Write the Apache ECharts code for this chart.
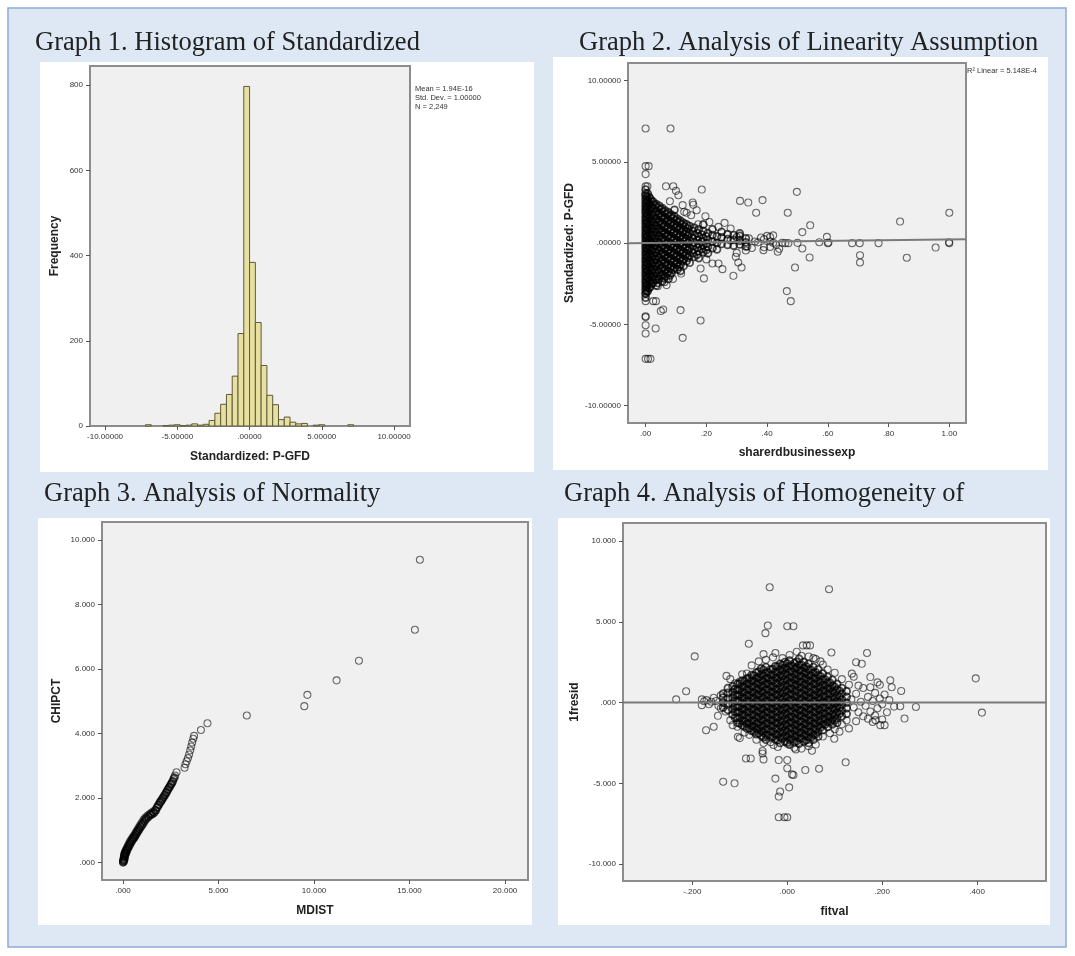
<!DOCTYPE html>
<html>
<head>
<meta charset="utf-8">
<title>Graphs 1-4</title>
<script src="https://cdn.jsdelivr.net/npm/echarts@6/dist/echarts.min.js"></script>
<style>
html, body { margin: 0; padding: 0; background: #fff; }
#chart { width: 1075px; height: 956px; }
</style>
</head>
<body>
<div id="chart"></div>
<script>
// ---- Graph 1: histogram (bins of 0.4) ----
var histBinWidth = 0.4;
var histBinStarts = [-7.2, -6.0, -5.6, -5.2, -4.8, -4.4, -4.0, -3.6, -3.2, -2.8, -2.4, -2.0, -1.6, -1.2, -0.8, -0.4, 0, 0.4, 0.8, 1.2, 1.6, 2.0, 2.4, 2.8, 3.2, 3.6, 4.4, 4.8, 6.8];
var histCounts = [3, 1, 2, 3, 1, 2, 5, 2, 4, 13, 30, 51, 74, 117, 217, 797, 384, 243, 142, 72, 50, 15, 21, 9, 5, 6, 2, 3, 3];
var histStats = ['Mean = 1.94E-16', 'Std. Dev. = 1.00000', 'N = 2,249'];

// ---- Graph 2: residual vs sharerdbusinessexp ----
// dense part, stored as [x, [y, y, ...]]
var linDenseCols = [
  [0, [3.3, 3.05, 2.93, 2.71, 2.48, 2.27, 2.06, 1.86, 1.62, 1.41, 1.2, 0.98, 0.77, 0.55, 0.36, 0.14, -0.08, -0.29, -0.51, -0.72, -0.94, -1.15, -1.37, -1.58, -1.8, -2.01, -2.23, -2.44, -2.66, -2.87, -3.1, -3.35]],
  [0.007, [3.05, 2.6, 2.2, 1.75, 1.3, 0.85, 0.42, 0.02, -0.4, -0.83, -1.25, -1.7, -2.1, -2.55, -2.95]],
  [0.015, [2.75, 2.4, 2.0, 1.55, 1.1, 0.65, 0.2, -0.22, -0.65, -1.05, -1.48, -1.9, -2.3, -2.7]],
  [0.025, [2.55, 2.15, 1.72, 1.28, 0.9, 0.48, 0.05, -0.35, -0.78, -1.2, -1.62, -2.02, -2.45]],
  [0.035, [2.4, 1.95, 1.5, 1.08, 0.66, 0.25, -0.17, -0.58, -1.0, -1.42, -1.85, -2.25, -2.6]],
  [0.045, [2.3, 1.85, 1.35, 0.9, 0.45, 0.0, -0.45, -0.9, -1.35, -1.8, -2.2]],
  [0.055, [2.15, 1.7, 1.22, 0.78, 0.32, -0.12, -0.58, -1.02, -1.48, -1.92, -2.35]],
  [0.065, [2.0, 1.55, 1.08, 0.62, 0.18, -0.28, -0.72, -1.18, -1.62, -2.05]],
  [0.075, [1.9, 1.42, 0.95, 0.5, 0.05, -0.4, -0.85, -1.3, -1.75, -2.2]],
  [0.085, [1.75, 1.3, 0.85, 0.4, -0.05, -0.5, -0.95, -1.4, -1.85]],
  [0.095, [2.05, 1.65, 1.18, 0.72, 0.28, -0.18, -0.62, -1.08, -1.52]],
  [0.105, [1.5, 1.05, 0.6, 0.15, -0.3, -0.75, -1.2, -1.62]],
  [0.115, [1.38, 0.92, 0.48, 0.04, -0.42, -0.88, -1.32, -1.7]],
  [0.125, [1.25, 0.8, 0.35, -0.1, -0.55, -1.0, -1.4]],
  [0.135, [1.15, 0.7, 0.25, -0.2, -0.65, -1.1]],
  [0.145, [1.05, 0.58, 0.12, -0.32, -0.78, -1.2]],
  [0.16, [0.95, 0.5, 0.05, -0.4, -0.85]],
  [0.175, [0.85, 0.4, -0.05, -0.48, -0.92]],
  [0.19, [1.15, 0.75, 0.3, -0.12, -0.55]],
  [0.205, [0.62, 0.2, -0.22, -0.62]],
  [0.22, [0.85, 0.5, 0.1, -0.3]],
  [0.235, [0.42, 0.02, -0.38]],
  [0.25, [0.7, 0.35, -0.05]],
  [0.27, [0.55, 0.25, -0.1]],
  [0.29, [0.5, 0.2, -0.15]],
  [0.31, [0.6, 0.45, 0.15, -0.08]],
  [0.33, [0.3, 0.05, -0.2]]
];
var linDenseCols2 = [
  [0.003, [2.82, 2.6, 2.38, 2.16, 1.96, 1.74, 1.52, 1.3, 1.09, 0.88, 0.66, 0.45, 0.25, 0.03, -0.18, -0.4, -0.62, -0.83, -1.05, -1.26, -1.48, -1.69, -1.91, -2.12, -2.34, -2.55, -2.77, -2.98]],
  [0.011, [2.85, 2.4, 1.98, 1.52, 1.08, 0.63, 0.22, -0.2, -0.62, -1.04, -1.48, -1.9, -2.32, -2.75]],
  [0.02, [2.58, 2.2, 1.78, 1.32, 0.88, 0.43, -0.01, -0.44, -0.86, -1.27, -1.69, -2.1, -2.5]],
  [0.03, [2.35, 1.93, 1.5, 1.09, 0.69, 0.27, -0.15, -0.56, -0.99, -1.41, -1.83, -2.24]],
  [0.04, [2.18, 1.73, 1.29, 0.87, 0.46, 0.04, -0.38, -0.79, -1.21, -1.64, -2.05, -2.45]],
  [0.05, [2.08, 1.6, 1.12, 0.67, 0.22, -0.23, -0.68, -1.12, -1.58, -2.0]],
  [0.06, [1.93, 1.46, 1.0, 0.55, 0.1, -0.35, -0.8, -1.25, -1.7, -2.15]],
  [0.07, [1.78, 1.3, 0.85, 0.4, -0.05, -0.5, -0.95, -1.4, -1.88]],
  [0.08, [1.65, 1.18, 0.72, 0.28, -0.18, -0.63, -1.08, -1.53, -1.98]],
  [0.09, [1.52, 1.07, 0.62, 0.17, -0.28, -0.73, -1.18, -1.63]],
  [0.1, [1.4, 0.95, 0.5, 0.05, -0.4, -0.85, -1.3]],
  [0.11, [1.28, 0.82, 0.37, -0.08, -0.53, -0.98, -1.45]],
  [0.12, [1.15, 0.7, 0.25, -0.2, -0.65, -1.1]],
  [0.13, [1.0, 0.55, 0.12, -0.32, -0.78]],
  [0.14, [0.9, 0.45, 0.0, -0.45, -0.9]],
  [0.155, [0.75, 0.3, -0.15, -0.6]],
  [0.17, [0.62, 0.18, -0.27, -0.7]],
  [0.185, [0.52, 0.08, -0.35]],
  [0.2, [0.42, -0.02, -0.42]]
];
var linSparse = [
  [0, 7.06], [0.082, 7.06], [0, 4.74], [0.01, 4.74], [0, 4.25], [0, 3.5], [0.006, 3.5], [0.067, 3.5], [0.091, 3.5],
  [0.1, 3.22], [0.108, 2.95], [0.185, 3.3], [0.08, 2.58], [0.122, 2.34], [0.155, 2.5], [0.157, 2.36], [0.168, 2.03],
  [0.135, 1.87], [0.311, 2.6], [0.338, 2.5], [0.385, 2.65], [0.364, 1.87], [0.468, 1.87], [0.498, 3.16], [0.542, 1.1],
  [0.516, 0.68], [0.597, 0.39], [0.572, 0.06], [0.6, 0], [0.602, 0.04], [0.68, 0], [0.705, 0], [0.767, 0], [0.838, 1.33],
  [1.0, 1.87], [1.0, 0], [0.999, 0.06], [0.955, -0.27], [0.86, -0.9], [0.706, -0.74], [0.706, -1.19], [0.54, -0.88],
  [0.516, -0.33], [0.492, -1.5], [0.465, -2.95], [0.478, -3.57], [0.435, -0.53], [0.41, -0.23], [0.388, -0.43],
  [0.316, -1.5], [0.305, -1.19], [0.297, -0.84], [0.289, -2.01], [0.253, -1.6], [0.24, -1.25], [0.192, -2.17],
  [0.181, -1.56], [0.181, -4.76], [0.122, -5.83], [0.115, -4.12], [0.058, -4.08], [0.05, -4.18], [0.033, -5.25],
  [0.025, -3.57], [0.034, -3.57], [0, -3.57], [0, -3.1], [0, -4.5], [0, -4.55], [0, -5.05], [0, -5.56], [0, -7.12],
  [0.008, -7.12], [0.016, -7.12], [0.069, -2.58], [0.127, 1.93], [0.15, 1.72], [0.197, 1.66], [0.173, 1.16],
  [0.21, 1.3], [0.24, 1.0], [0.26, 1.25], [0.22, -1.25], [0.2, -1.0], [0.117, -1.87], [0.062, -2.4], [0.09, -2.2],
  [0.04, -2.65], [0.28, 0.9], [0.3, -0.6], [0.33, -0.45], [0.3, 0.38], [0.28, 0.17], [0.42, 0.48], [0.41, 0.38],
  [0.35, -0.3], [0.39, -0.25], [0.36, 0.1], [0.37, 0.05], [0.38, 0.35], [0.39, 0.25], [0.4, 0.45], [0.41, 0.1],
  [0.42, 0.02], [0.43, -0.1], [0.45, 0.02], [0.46, 0], [0.47, 0], [0.44, -0.35], [0.5, 0.02], [0.34, 0.3], [0.335, -0.2]
];
var linFitIntercept = 0.012;
var linFitSlope = 0.21;
var linR2Text = 'R\u00b2 Linear = 5.148E-4';

// ---- Graph 3: MDIST vs CHIPCT ----
var normPoints = [
  [0, 0], [0.01, 0.04], [0.02, 0.08], [0.03, 0.12], [0.04, 0.16], [0.05, 0.2], [0.06, 0.24], [0.08, 0.28], [0.1, 0.32],
  [0.13, 0.36], [0.16, 0.4], [0.2, 0.44], [0.24, 0.5], [0.29, 0.56], [0.34, 0.62], [0.4, 0.68], [0.46, 0.74],
  [0.52, 0.79], [0.58, 0.84], [0.64, 0.9], [0.7, 0.96], [0.76, 1.02], [0.82, 1.08], [0.88, 1.14], [0.95, 1.2],
  [1.02, 1.27], [1.1, 1.34], [1.18, 1.4], [1.28, 1.45], [1.38, 1.5], [1.48, 1.54], [1.58, 1.58], [1.68, 1.63],
  [1.76, 1.7], [1.84, 1.78], [1.92, 1.86], [2.0, 1.92], [2.08, 2.0], [2.16, 2.08], [2.24, 2.16], [2.32, 2.24],
  [2.4, 2.32], [2.48, 2.4], [2.56, 2.47], [2.64, 2.58], [2.72, 2.7], [2.8, 2.8], [3.22, 2.94], [3.27, 3.05],
  [3.33, 3.14], [3.4, 3.24], [3.46, 3.35], [3.52, 3.48], [3.57, 3.6], [3.62, 3.72], [3.68, 3.84], [3.72, 3.93],
  [4.08, 4.11], [4.42, 4.32], [6.48, 4.56], [9.49, 4.85], [9.65, 5.2], [11.18, 5.65], [12.35, 6.26], [15.28, 7.22], [15.54, 9.39]
];
var normPointsDense = [
  [0.02, 0.02], [0.04, 0.06], [0.06, 0.1], [0.08, 0.16], [0.1, 0.22], [0.12, 0.28], [0.15, 0.3], [0.19, 0.36],
  [0.23, 0.42], [0.27, 0.47], [0.32, 0.52], [0.37, 0.58], [0.43, 0.64], [0.49, 0.7], [0.55, 0.75], [0.61, 0.8],
  [0.67, 0.86], [0.73, 0.92], [0.79, 0.98], [0.85, 1.04], [0.92, 1.1], [0.99, 1.16], [1.06, 1.22], [1.14, 1.3],
  [1.22, 1.36], [1.33, 1.42], [1.43, 1.48], [1.53, 1.5], [1.63, 1.55], [1.72, 1.62], [1.8, 1.72], [1.88, 1.8],
  [1.96, 1.88], [2.04, 1.95], [2.12, 2.03], [2.2, 2.1], [2.28, 2.18], [2.36, 2.27], [2.44, 2.35], [2.52, 2.43],
  [2.6, 2.52], [2.68, 2.63]
];

// ---- Graph 4: 1fresid vs fitval ----
var homoDenseCols = [
  [-0.135, [0.55, 0.3, 0.0, -0.3]],
  [-0.125, [0.9, 0.6, 0.25, -0.1, -0.45]],
  [-0.115, [1.0, 0.65, 0.3, -0.05, -0.4, -0.75]],
  [-0.105, [1.15, 0.8, 0.45, 0.1, -0.25, -0.6, -0.95, -1.25]],
  [-0.095, [1.35, 1.0, 0.65, 0.3, -0.05, -0.4, -0.75, -1.1, -1.4]],
  [-0.085, [1.5, 1.15, 0.8, 0.45, 0.1, -0.25, -0.6, -0.95, -1.3, -1.6]],
  [-0.075, [1.7, 1.35, 1.0, 0.65, 0.3, -0.05, -0.4, -0.75, -1.1, -1.45, -1.75]],
  [-0.065, [1.85, 1.5, 1.15, 0.8, 0.45, 0.1, -0.25, -0.6, -0.95, -1.3, -1.65, -1.95]],
  [-0.055, [2.1, 1.75, 1.4, 1.05, 0.7, 0.35, 0.0, -0.35, -0.7, -1.05, -1.4, -1.75, -2.05]],
  [-0.045, [2.2, 1.85, 1.5, 1.15, 0.8, 0.45, 0.1, -0.25, -0.6, -0.95, -1.3, -1.65, -2.0, -2.3]],
  [-0.035, [2.05, 1.7, 1.35, 1.0, 0.65, 0.3, -0.05, -0.4, -0.75, -1.1, -1.45, -1.8, -2.15]],
  [-0.025, [2.25, 1.9, 1.55, 1.2, 0.85, 0.5, 0.15, -0.2, -0.55, -0.9, -1.25, -1.6, -1.95, -2.3]],
  [-0.015, [2.4, 2.05, 1.7, 1.35, 1.0, 0.65, 0.3, -0.05, -0.4, -0.75, -1.1, -1.45, -1.8, -2.15, -2.5]],
  [-0.005, [2.5, 2.15, 1.8, 1.45, 1.1, 0.75, 0.4, 0.05, -0.3, -0.65, -1.0, -1.35, -1.7, -2.05, -2.4]],
  [0.005, [2.6, 2.25, 1.9, 1.55, 1.2, 0.85, 0.5, 0.15, -0.2, -0.55, -0.9, -1.25, -1.6, -1.95, -2.3, -2.6]],
  [0.015, [2.45, 2.1, 1.75, 1.4, 1.05, 0.7, 0.35, 0.0, -0.35, -0.7, -1.05, -1.4, -1.75, -2.1, -2.45]],
  [0.025, [2.7, 2.35, 2.0, 1.65, 1.3, 0.95, 0.6, 0.25, -0.1, -0.45, -0.8, -1.15, -1.5, -1.85, -2.2, -2.55]],
  [0.035, [2.5, 2.15, 1.8, 1.45, 1.1, 0.75, 0.4, 0.05, -0.3, -0.65, -1.0, -1.35, -1.7, -2.05, -2.4]],
  [0.045, [2.4, 2.05, 1.7, 1.35, 1.0, 0.65, 0.3, -0.05, -0.4, -0.75, -1.1, -1.45, -1.8, -2.15, -2.5]],
  [0.055, [2.2, 1.85, 1.5, 1.15, 0.8, 0.45, 0.1, -0.25, -0.6, -0.95, -1.3, -1.65, -2.0, -2.3]],
  [0.065, [2.05, 1.7, 1.35, 1.0, 0.65, 0.3, -0.05, -0.4, -0.75, -1.1, -1.45, -1.8, -2.1]],
  [0.075, [1.8, 1.45, 1.1, 0.75, 0.4, 0.05, -0.3, -0.65, -1.0, -1.35, -1.7]],
  [0.085, [1.6, 1.25, 0.9, 0.55, 0.2, -0.15, -0.5, -0.85, -1.2, -1.5]],
  [0.095, [1.4, 1.05, 0.7, 0.35, 0.0, -0.35, -0.7, -1.05, -1.35]],
  [0.105, [1.15, 0.8, 0.45, 0.1, -0.25, -0.6, -0.95, -1.25]],
  [0.115, [0.9, 0.55, 0.2, -0.15, -0.5, -0.85]],
  [0.125, [0.7, 0.35, 0.0, -0.35, -0.7]]
];
var homoDenseCols2 = [
  [-0.11, [0.82, 0.47, 0.12, -0.23, -0.58, -0.93]],
  [-0.1, [1.17, 0.82, 0.47, 0.12, -0.23, -0.58, -0.93, -1.28]],
  [-0.09, [1.32, 0.97, 0.62, 0.27, -0.08, -0.43, -0.78, -1.13, -1.48]],
  [-0.08, [1.52, 1.17, 0.82, 0.47, 0.12, -0.23, -0.58, -0.93, -1.28, -1.6]],
  [-0.07, [1.67, 1.32, 0.97, 0.62, 0.27, -0.08, -0.43, -0.78, -1.13, -1.48, -1.8]],
  [-0.06, [1.92, 1.57, 1.22, 0.87, 0.52, 0.17, -0.18, -0.53, -0.88, -1.23, -1.58, -1.9]],
  [-0.05, [2.02, 1.67, 1.32, 0.97, 0.62, 0.27, -0.08, -0.43, -0.78, -1.13, -1.48, -1.83, -2.15]],
  [-0.04, [1.87, 1.52, 1.17, 0.82, 0.47, 0.12, -0.23, -0.58, -0.93, -1.28, -1.63, -1.98]],
  [-0.03, [2.07, 1.72, 1.37, 1.02, 0.67, 0.32, -0.03, -0.38, -0.73, -1.08, -1.43, -1.78, -2.12]],
  [-0.02, [2.22, 1.87, 1.52, 1.17, 0.82, 0.47, 0.12, -0.23, -0.58, -0.93, -1.28, -1.63, -1.98, -2.32]],
  [-0.01, [2.32, 1.97, 1.62, 1.27, 0.92, 0.57, 0.22, -0.13, -0.48, -0.83, -1.18, -1.53, -1.88, -2.22]],
  [0.0, [2.42, 2.07, 1.72, 1.37, 1.02, 0.67, 0.32, -0.03, -0.38, -0.73, -1.08, -1.43, -1.78, -2.13, -2.45]],
  [0.01, [2.28, 1.93, 1.58, 1.23, 0.88, 0.53, 0.18, -0.17, -0.52, -0.87, -1.22, -1.57, -1.92, -2.27]],
  [0.02, [2.52, 2.17, 1.82, 1.47, 1.12, 0.77, 0.42, 0.07, -0.28, -0.63, -0.98, -1.33, -1.68, -2.03, -2.38]],
  [0.03, [2.32, 1.97, 1.62, 1.27, 0.92, 0.57, 0.22, -0.13, -0.48, -0.83, -1.18, -1.53, -1.88, -2.22]],
  [0.04, [2.22, 1.87, 1.52, 1.17, 0.82, 0.47, 0.12, -0.23, -0.58, -0.93, -1.28, -1.63, -1.98, -2.32]],
  [0.05, [2.02, 1.67, 1.32, 0.97, 0.62, 0.27, -0.08, -0.43, -0.78, -1.13, -1.48, -1.83, -2.15]],
  [0.06, [1.87, 1.52, 1.17, 0.82, 0.47, 0.12, -0.23, -0.58, -0.93, -1.28, -1.63, -1.95]],
  [0.07, [1.62, 1.27, 0.92, 0.57, 0.22, -0.13, -0.48, -0.83, -1.18, -1.53]],
  [0.08, [1.42, 1.07, 0.72, 0.37, 0.02, -0.33, -0.68, -1.03, -1.35]],
  [0.09, [1.22, 0.87, 0.52, 0.17, -0.18, -0.53, -0.88, -1.2]],
  [0.1, [0.97, 0.62, 0.27, -0.08, -0.43, -0.78, -1.1]],
  [0.11, [0.72, 0.37, 0.02, -0.33, -0.68]]
];
var homoHalo = [
  [-0.1, 1.3], [-0.085, 1.8], [-0.075, 2.3], [-0.06, 2.55], [-0.045, 2.65], [-0.03, 2.8], [-0.01, 2.75], [0.005, 2.95],
  [0.02, 3.15], [0.03, 2.9], [0.045, 2.85], [0.06, 2.7], [0.075, 2.35], [0.085, 2.05], [0.1, 1.85], [0.115, 1.45],
  [0.13, 1.1], [0.14, 1.6], [-0.12, 1.45], [-0.11, 1.2], [-0.095, 1.75], [0.055, 2.75], [0.07, 2.55],
  [-0.12, -1.1], [-0.105, -1.5], [-0.09, -1.85], [-0.08, -2.0], [-0.065, -2.3], [-0.05, -2.5], [-0.035, -2.45],
  [-0.02, -2.75], [0.0, -2.55], [0.015, -2.8], [0.03, -2.85], [0.045, -2.7], [0.06, -2.6], [0.075, -2.1], [0.09, -1.9],
  [0.1, -1.65], [0.115, -1.35], [0.125, -1.1], [0.13, -1.6], [0.11, -1.8], [-0.1, -2.2], [-0.115, -1.4],
  [-0.15, 0.1], [-0.16, 0.05], [-0.17, 0.15], [-0.175, 0.08], [-0.145, -0.2], [-0.155, 0.3], [-0.14, 0.45],
  [-0.13, -0.55], [-0.14, -0.35], [-0.165, -0.1],
  [0.135, 0.2], [0.14, -0.3], [0.145, 0.55], [0.15, -0.6], [0.155, 0.05], [0.16, 0.9], [0.165, -0.2], [0.17, 0.35],
  [0.175, -0.55], [0.18, 0.1], [0.185, 0.6], [0.19, -0.35], [0.195, 0.25], [0.2, -0.1], [0.205, 0.5], [0.21, -0.6],
  [0.215, 0.15], [0.22, 0.95], [0.225, -0.25], [0.175, 0.95], [0.185, -0.8], [0.195, 1.1], [0.2, -1.05],
  [0.17, -1.0], [0.16, -0.85], [0.15, 1.05], [0.145, -1.15], [0.205, -1.4], [0.19, 1.25], [0.18, -1.2]
];
var homoSparse = [
  [-0.037, 7.14], [0.088, 7.02], [-0.041, 4.77], [-0.046, 4.3], [0, 4.73], [0.013, 4.73], [-0.081, 3.64],
  [0.033, 3.54], [0.041, 3.54], [0.048, 3.54], [0.093, 3.1], [0.168, 3.07], [-0.195, 2.86], [-0.05, 3.0],
  [-0.025, 3.07], [0.145, 2.5], [0.157, 2.4], [0.136, 1.79], [0.175, 1.58], [0.217, 1.38], [0.397, 1.5],
  [0.41, -0.62], [0.271, -0.27], [0.247, -0.99], [0.24, 0.72], [0.238, -0.23], [0.196, -1.4], [0.186, -1.09],
  [-0.234, 0.2], [-0.213, 0.7], [-0.18, 0.2], [-0.18, -0.16], [-0.171, -1.71], [-0.155, -1.5], [-0.146, -0.82],
  [-0.128, 1.65], [-0.104, -2.12], [-0.087, -3.46], [-0.077, -3.46], [-0.052, -3.0], [-0.052, -3.15], [-0.05, -3.52],
  [-0.018, -3.56], [0, -3.56], [0, -4.07], [0.013, -4.49], [0.01, -4.45], [0.038, -4.18], [0.067, -4.1],
  [0.123, -3.7], [-0.025, -4.71], [-0.015, -5.51], [-0.018, -5.82], [0.004, -5.25], [-0.135, -4.9], [-0.111, -5.0],
  [-0.018, -7.1], [-0.006, -7.1], [0, -7.1], [0.099, -2.24], [0.052, -2.98], [0.018, -2.9], [-0.029, -2.63]
];
var homoRefLine = 0;

var titles = [
  'Graph 1. Histogram of Standardized',
  'Graph 2. Analysis of Linearity Assumption',
  'Graph 3. Analysis of Normality',
  'Graph 4. Analysis of Homogeneity of'
];
var title3Line2 = 'Assumption';

// SPSS style numbers: .00000 instead of 0.00000
function spss(v, d) {
  if (d === 0) return String(Math.round(v));
  var s = Math.abs(v).toFixed(d);
  if (s.charAt(0) === '0') s = s.slice(1);
  return (v < 0 ? '-' : '') + s;
}

function fromColumns(cols) {
  var out = [];
  cols.forEach(function (c) {
    c[1].forEach(function (y) { out.push([c[0], y]); });
  });
  return out;
}

function makeAxis(gridIndex, min, max, ticks, digits, name, nameGap) {
  return {
    type: 'value', gridIndex: gridIndex, min: min, max: max,
    name: name, nameLocation: 'middle', nameGap: nameGap,
    nameTextStyle: { fontFamily: 'Liberation Sans', fontWeight: 'bold', fontSize: 12, color: '#222' },
    axisLine: { show: false, onZero: false },
    axisTick: { show: true, length: 4, customValues: ticks, lineStyle: { color: '#555' } },
    axisLabel: {
      customValues: ticks, margin: 7, fontSize: 8, color: '#333', fontFamily: 'Liberation Sans',
      formatter: function (v) { return spss(v, digits); }
    },
    splitLine: { show: false },
    z: 5
  };
}

var plotGrid = { show: true, backgroundColor: '#f0f0f0', borderColor: '#8c8c8c', borderWidth: 2, outerBoundsMode: 'none', z: 1 };
function grid(l, t, w, h) {
  return Object.assign({ left: l, top: t, width: w, height: h }, plotGrid);
}

// isolated circles
var ring = {
  type: 'scatter', symbol: 'circle', symbolSize: 7, silent: true, z: 3,
  itemStyle: { color: 'rgba(0,0,0,0)', borderColor: 'rgba(0,0,0,0.7)', borderWidth: 1.1 }
};
// circles in the crowded middle, drawn a bit heavier so the overlap reads as solid
var ringDense = {
  type: 'scatter', symbol: 'circle', symbolSize: 7, silent: true, z: 3,
  itemStyle: { color: 'rgba(0,0,0,0)', borderColor: 'rgba(0,0,0,0.85)', borderWidth: 1.8 }
};

var lin = { xMin: -0.058, xMax: 1.055 };
var homo = { xMin: -0.346, xMax: 0.545 };

function titleText(x, y, text) {
  return { type: 'text', z: -10, x: x, y: y, style: { text: text, fontFamily: 'Liberation Serif', fontSize: 26.5, fill: '#222', verticalAlign: 'middle' } };
}

var chart = echarts.init(document.getElementById('chart'));
chart.setOption({
  animation: false,
  backgroundColor: '#ffffff',
  grid: [
    grid(90, 66, 320, 360),
    grid(628, 63, 338, 360),
    grid(102, 522, 426, 358),
    grid(623, 523, 423, 358)
  ],
  xAxis: [
    makeAxis(0, -11.04, 11.1, [-10, -5, 0, 5, 10], 5, 'Standardized: P-GFD', 25),
    makeAxis(1, lin.xMin, lin.xMax, [0, 0.2, 0.4, 0.6, 0.8, 1.0], 2, 'sharerdbusinessexp', 24),
    makeAxis(2, -1.1, 21.2, [0, 5, 10, 15, 20], 3, 'MDIST', 25),
    makeAxis(3, homo.xMin, homo.xMax, [-0.2, 0, 0.2, 0.4], 3, 'fitval', 25)
  ],
  yAxis: [
    makeAxis(0, 0, 845, [0, 200, 400, 600, 800], 0, 'Frequency', 29),
    makeAxis(1, -11.07, 11.09, [-10, -5, 0, 5, 10], 5, 'Standardized: P-GFD', 52),
    makeAxis(2, -0.54, 10.56, [0, 2, 4, 6, 8, 10], 3, 'CHIPCT', 39),
    makeAxis(3, -11.05, 11.12, [-10, -5, 0, 5, 10], 3, '1fresid', 42)
  ],
  series: [
    {
      type: 'custom', xAxisIndex: 0, yAxisIndex: 0, silent: true, z: 3,
      data: histBinStarts.map(function (s, i) { return [s, s + histBinWidth, histCounts[i]]; }),
      encode: { x: [0, 1], y: 2 },
      renderItem: function (params, api) {
        var p0 = api.coord([api.value(0), api.value(2)]);
        var p1 = api.coord([api.value(1), 0]);
        return {
          type: 'rect',
          shape: { x: p0[0], y: p0[1], width: p1[0] - p0[0], height: p1[1] - p0[1] },
          style: { fill: '#e8e0a0', stroke: '#5e5a3a', lineWidth: 1 }
        };
      }
    },
    Object.assign({}, ringDense, { xAxisIndex: 1, yAxisIndex: 1, data: fromColumns(linDenseCols).concat(fromColumns(linDenseCols2)) }),
    Object.assign({}, ring, { xAxisIndex: 1, yAxisIndex: 1, data: linSparse }),
    {
      type: 'line', xAxisIndex: 1, yAxisIndex: 1, showSymbol: false, silent: true, z: 4,
      lineStyle: { color: '#7a7a7a', width: 2 },
      data: [[lin.xMin, linFitIntercept + linFitSlope * lin.xMin], [lin.xMax, linFitIntercept + linFitSlope * lin.xMax]]
    },
    Object.assign({}, ringDense, { xAxisIndex: 2, yAxisIndex: 2, data: normPointsDense }),
    Object.assign({}, ring, { xAxisIndex: 2, yAxisIndex: 2, data: normPoints }),
    Object.assign({}, ringDense, { xAxisIndex: 3, yAxisIndex: 3, data: fromColumns(homoDenseCols).concat(fromColumns(homoDenseCols2)) }),
    Object.assign({}, ring, { xAxisIndex: 3, yAxisIndex: 3, data: homoHalo.concat(homoSparse) }),
    {
      type: 'line', xAxisIndex: 3, yAxisIndex: 3, showSymbol: false, silent: true, z: 4,
      lineStyle: { color: '#7a7a7a', width: 2 },
      data: [[homo.xMin, homoRefLine], [homo.xMax, homoRefLine]]
    }
  ],
  graphic: [
    { type: 'rect', z: -30, shape: { x: 8, y: 8, width: 1058, height: 939 }, style: { fill: '#dde8f4', stroke: '#8eaad6', lineWidth: 1.5 } },
    { type: 'text', z: -20, x: 44, y: 531, style: { text: title3Line2, fontFamily: 'Liberation Serif', fontSize: 26.5, fill: '#222', verticalAlign: 'middle' } },
    { type: 'rect', z: -10, shape: { x: 40, y: 62, width: 494, height: 410 }, style: { fill: '#ffffff' } },
    { type: 'rect', z: -10, shape: { x: 553, y: 57, width: 495, height: 413 }, style: { fill: '#ffffff' } },
    { type: 'rect', z: -10, shape: { x: 38, y: 518, width: 494, height: 407 }, style: { fill: '#ffffff' } },
    { type: 'rect', z: -10, shape: { x: 558, y: 518, width: 492, height: 407 }, style: { fill: '#ffffff' } },
    titleText(35, 43, titles[0]),
    titleText(579, 43, titles[1]),
    titleText(44, 494, titles[2]),
    titleText(564, 494, titles[3]),
    { type: 'text', z: 10, x: 415, y: 84, style: { text: histStats.join('\n'), fontFamily: 'Liberation Sans', fontSize: 7.5, lineHeight: 9, fill: '#333' } },
    { type: 'text', z: 10, x: 967, y: 67, style: { text: linR2Text, fontFamily: 'Liberation Sans', fontSize: 7.5, fill: '#333' } }
  ]
});
</script>
</body>
</html>
